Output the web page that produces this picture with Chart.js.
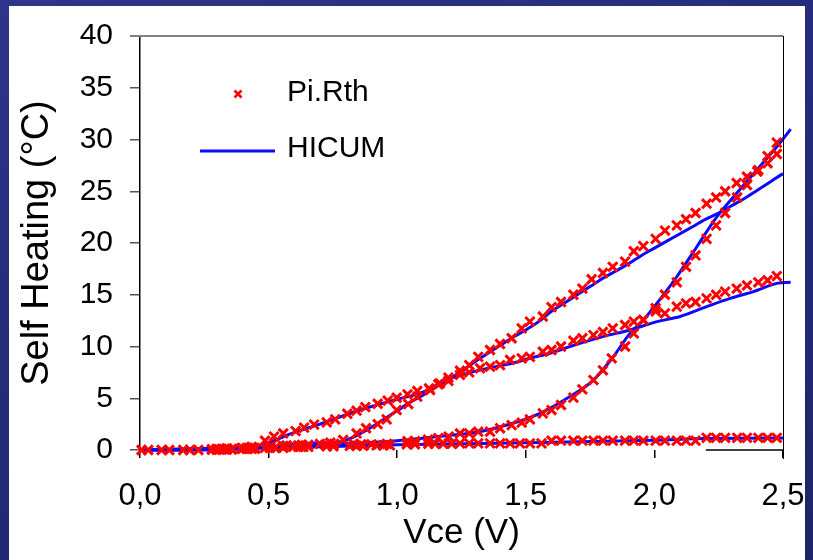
<!DOCTYPE html>
<html>
<head>
<meta charset="utf-8">
<script src="https://cdn.jsdelivr.net/npm/chart.js@4.4.1/dist/chart.umd.min.js"></script>
<style>
  html, body { margin: 0; padding: 0; }
  body {
    width: 813px; height: 560px; overflow: hidden; position: relative;
    background: linear-gradient(160deg, #2e3488 0%, #262c7a 40%, #1f2468 100%);
  }
  #panel { position: absolute; left: 9px; top: 6px; width: 796px; height: 554px; background: #fff; }
  #chart { position: absolute; left: 0; top: 0; }
</style>
</head>
<body>
<div id="panel"></div>
<canvas id="chart" width="813" height="560"></canvas>
<script>
// measured points (Pi.Rth), four bias curves
const vce1 = [0.298,0.337,0.395,0.434,0.486,0.521,0.557,0.605,0.638,0.677,0.726,0.759,0.806,0.842,0.876,0.924,0.963,0.998,1.04,1.078,1.124,1.16,1.199,1.244,1.28,1.322,1.361,1.40,1.439,1.484,1.516,1.566,1.60,1.637,1.685,1.72,1.763,1.80,1.838,1.886,1.92,1.957,2.005,2.041,2.087,2.123,2.16,2.203,2.24,2.275,2.32,2.36,2.404,2.44,2.476];
const heat1 = [0.1,0.15,0.2,0.3,0.9,1.3,1.6,1.83,2.16,2.45,2.67,2.96,3.5,3.8,4.15,4.47,4.77,5.05,5.38,5.7,5.96,6.35,6.67,7.25,7.5,7.9,8.05,8.2,8.7,8.86,9.0,9.5,9.66,10.0,10.56,10.8,11.1,11.4,11.75,12.08,12.4,12.56,13.4,13.2,13.85,14.17,14.3,14.65,15.0,15.3,15.6,15.9,16.2,16.4,16.8];

const vce2 = [0.28,0.318,0.357,0.415,0.447,0.505,0.557,0.616,0.654,0.72,0.755,0.79,0.842,0.879,0.924,0.959,0.998,1.043,1.078,1.128,1.166,1.199,1.244,1.28,1.315,1.361,1.40,1.445,1.484,1.516,1.566,1.60,1.637,1.685,1.72,1.756,1.80,1.838,1.886,1.92,1.957,2.005,2.041,2.087,2.123,2.16,2.203,2.24,2.275,2.32,2.36,2.404,2.44,2.476];
const heat2 = [0.05,0.1,0.1,0.2,0.2,0.3,0.4,0.45,0.5,0.5,0.6,0.97,1.6,2.1,2.5,2.96,3.86,4.44,5.15,5.8,6.44,7.0,7.66,8.2,9.0,9.66,10.24,10.8,11.75,12.4,12.9,13.8,14.3,15.0,15.6,16.5,17.1,17.7,18.2,19.2,19.7,20.4,21.2,21.7,22.3,22.9,23.8,24.4,25.0,25.8,26.4,27.05,27.7,28.6];

const vce3 = [0.30,0.34,0.40,0.44,0.51,0.57,0.63,0.70,0.74,0.83,0.86,0.90,0.96,1.04,1.07,1.12,1.16,1.20,1.244,1.28,1.315,1.361,1.40,1.445,1.484,1.516,1.566,1.60,1.637,1.685,1.72,1.763,1.80,1.834,1.886,1.92,1.957,2.005,2.041,2.087,2.123,2.16,2.203,2.24,2.275,2.322,2.36,2.40,2.44,2.476];
const heat3 = [0.05,0.1,0.15,0.2,0.4,0.45,0.5,0.6,0.7,0.6,0.55,0.55,0.6,0.85,0.85,1.0,1.15,1.3,1.6,1.6,1.77,1.77,2.1,2.4,2.64,2.96,3.54,3.86,4.35,5.06,5.86,6.76,7.7,8.86,10.0,11.27,12.56,13.7,15.0,16.2,17.7,18.8,20.4,21.7,22.9,24.4,25.6,26.9,28.4,29.7];

const vce4 = [0.006,0.032,0.084,0.114,0.168,0.194,0.227,0.279,0.298,0.318,0.337,0.357,0.395,0.415,0.434,0.447,0.486,0.505,0.525,0.557,0.596,0.616,0.635,0.654,0.726,0.752,0.816,0.842,0.868,0.92,0.946,0.972,1.037,1.069,1.121,1.147,1.179,1.212,1.244,1.28,1.315,1.361,1.40,1.439,1.477,1.516,1.561,1.60,1.637,1.685,1.72,1.763,1.80,1.838,1.886,1.92,1.957,2.005,2.041,2.087,2.123,2.16,2.203,2.24,2.275,2.322,2.36,2.404,2.44,2.476];
const heat4 = [0,0,0,0,0,0,0,0.05,0.05,0.05,0.05,0.05,0.1,0.1,0.1,0.1,0.2,0.2,0.2,0.2,0.3,0.3,0.3,0.3,0.35,0.35,0.4,0.4,0.4,0.45,0.45,0.45,0.55,0.55,0.6,0.6,0.6,0.6,0.64,0.64,0.64,0.64,0.64,0.64,0.64,0.64,0.64,0.9,0.9,0.9,0.9,0.9,0.9,0.9,0.9,0.9,0.9,0.9,0.9,0.9,0.9,0.9,1.18,1.18,1.18,1.18,1.18,1.18,1.18,1.18];

// HICUM model curves
const hicumV1 = [0,0.3,0.45,0.5,0.6,0.7,0.8,0.9,1.0,1.1,1.192,1.322,1.45,1.516,1.6,1.672,1.8,1.905,2.01,2.10,2.203,2.294,2.385,2.476,2.53];
const hicumT1 = [0,0.05,0.3,0.7,1.7,2.5,3.4,4.2,4.9,5.6,6.76,7.73,8.4,8.86,9.4,10.0,10.95,11.6,12.4,12.9,13.85,14.65,15.3,16.1,16.2];

const hicumV2 = [0,0.3,0.5,0.6,0.7,0.78,0.85,0.9,0.95,1.0,1.05,1.1,1.15,1.2,1.25,1.3,1.35,1.4,1.45,1.5,1.55,1.6,1.65,1.7,1.75,1.8,1.85,1.9,1.95,2.0,2.05,2.1,2.15,2.2,2.25,2.3,2.35,2.4,2.45,2.5,2.53];
const hicumT2 = [0,0.05,0.3,0.6,0.7,0.8,1.5,2.2,3.0,3.8,4.6,5.3,6.1,6.8,7.6,8.5,9.3,10.1,10.9,11.6,12.4,13.4,14.2,15.0,15.8,16.6,17.3,18.0,18.8,19.5,20.2,20.9,21.6,22.3,22.9,23.6,24.3,25.1,25.9,26.7,27.1];

const hicumV3 = [0,0.5,0.8,1.0,1.18,1.32,1.45,1.555,1.67,1.763,1.84,1.905,1.957,2.02,2.087,2.165,2.242,2.32,2.41,2.476,2.53];
const hicumT3 = [0,0.3,0.6,0.9,1.35,1.77,2.58,3.54,5.15,6.76,9.0,11.27,12.56,14.5,16.74,19.64,22.5,24.8,27.4,29.3,31.0];

const hicumV4 = [0,0.5,1.0,1.5,2.0,2.2,2.5,2.53];
const hicumT4 = [0,0.2,0.5,0.7,0.95,1.1,1.15,1.15];

// the short piece of x axis line visible at the lower right
const axisPieceV = [2.2, 2.5];
const axisPieceT = [0, 0];

const seriesNames = ['Pi.Rth', 'HICUM'];

const RED = '#ff0000';
const BLUE = '#0a0aff';
const FONT = '"Liberation Sans", Arial, sans-serif';

function pts(xs, ys) {
  return xs.map((x, i) => ({ x: x, y: ys[i] }));
}

function measured(xs, ys) {
  return {
    label: seriesNames[0],
    data: pts(xs, ys),
    showLine: false,
    pointStyle: 'crossRot',
    pointRadius: 6.5,
    pointBorderWidth: 3,
    pointBorderColor: RED,
    pointBackgroundColor: RED,
    clip: false,
    order: 0,
  };
}

function model(xs, ys) {
  return {
    label: seriesNames[1],
    data: pts(xs, ys),
    showLine: true,
    borderColor: BLUE,
    borderWidth: 3,
    pointRadius: 0,
    cubicInterpolationMode: 'monotone',
    clip: { left: 5, top: 5, right: 9, bottom: 5 },
    order: 1,
  };
}

const frameAndLegend = {
  id: 'frameAndLegend',
  afterDraw(chart) {
    const { ctx, chartArea: a } = chart;
    ctx.save();
    // top frame line (grey) and right frame line (black)
    ctx.strokeStyle = '#808080';
    ctx.lineWidth = 2;
    ctx.beginPath();
    ctx.moveTo(a.left - 10, a.top);
    ctx.lineTo(a.right, a.top);
    ctx.stroke();
    ctx.strokeStyle = '#000';
    ctx.lineWidth = 1;
    ctx.beginPath();
    ctx.moveTo(a.right + 0.5, a.top);
    ctx.lineTo(a.right + 0.5, a.bottom + 9);
    ctx.stroke();

    // legend
    const mx = a.left + 98, my = a.top + 58;
    ctx.strokeStyle = RED;
    ctx.lineWidth = 2.5;
    ctx.beginPath();
    ctx.moveTo(mx - 3.5, my - 3.5); ctx.lineTo(mx + 3.5, my + 3.5);
    ctx.moveTo(mx - 3.5, my + 3.5); ctx.lineTo(mx + 3.5, my - 3.5);
    ctx.stroke();
    const ly = a.top + 115;
    ctx.strokeStyle = BLUE;
    ctx.lineWidth = 3;
    ctx.beginPath();
    ctx.moveTo(a.left + 60, ly); ctx.lineTo(a.left + 135, ly);
    ctx.stroke();
    ctx.fillStyle = '#000';
    ctx.font = '30px ' + FONT;
    ctx.textBaseline = 'middle';
    ctx.textAlign = 'left';
    ctx.fillText(seriesNames[0], a.left + 147, a.top + 57);
    ctx.fillText(seriesNames[1], a.left + 147, a.top + 113);
    ctx.restore();
  }
};

new Chart(document.getElementById('chart'), {
  type: 'scatter',
  data: {
    datasets: [
      measured(vce1, heat1),
      measured(vce2, heat2),
      measured(vce3, heat3),
      measured(vce4, heat4),
      model(hicumV1, hicumT1),
      model(hicumV2, hicumT2),
      model(hicumV3, hicumT3),
      model(hicumV4, hicumT4),
      {
        label: '',
        data: pts(axisPieceV, axisPieceT),
        showLine: true,
        borderColor: '#000',
        borderWidth: 1.5,
        pointRadius: 0,
        clip: false,
        order: 2,
      },
    ],
  },
  options: {
    responsive: false,
    animation: false,
    events: [],
    layout: { padding: { left: 0, right: 30, top: 36, bottom: 0 } },
    plugins: { legend: { display: false }, tooltip: { enabled: false } },
    scales: {
      x: {
        type: 'linear',
        min: 0,
        max: 2.5,
        afterFit: (s) => { s.height = 110; s.paddingLeft = 0; s.paddingRight = 0; },
        border: { display: false },
        grid: { drawOnChartArea: false, drawTicks: true, tickLength: 8, color: '#000', lineWidth: 1.5 },
        ticks: {
          stepSize: 0.5,
          padding: 20,
          color: '#000',
          font: { family: FONT, size: 31 },
          callback: (v) => v.toFixed(1).replace('.', ','),
        },
        title: {
          display: true,
          text: 'Vce (V)',
          color: '#000',
          font: { family: FONT, size: 35 },
          padding: { top: 0, bottom: 6 },
        },
      },
      y: {
        type: 'linear',
        min: 0,
        max: 40,
        afterFit: (s) => { s.width = 140; s.paddingTop = 0; s.paddingBottom = 0; },
        border: { display: true, color: '#000', width: 1.5 },
        grid: { drawOnChartArea: false, drawTicks: true, tickLength: 10, color: '#555', lineWidth: 1.5 },
        ticks: {
          stepSize: 5,
          padding: 17,
          color: '#000',
          font: { family: FONT, size: 30 },
        },
        title: {
          display: true,
          text: 'Self Heating (°C)',
          color: '#000',
          font: { family: FONT, size: 38 },
          padding: { top: 15, bottom: 0 },
        },
      },
    },
  },
  plugins: [frameAndLegend],
});
</script>
</body>
</html>
